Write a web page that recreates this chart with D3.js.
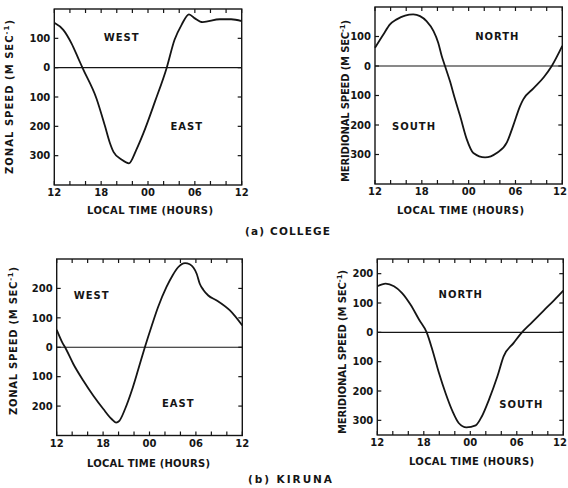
<!DOCTYPE html>
<html><head><meta charset="utf-8">
<script src="https://cdn.jsdelivr.net/npm/d3@7"></script>
<style>
body{margin:0;background:#fff}
svg text{font-family:"DejaVu Sans",sans-serif;font-weight:bold;fill:#151515}
</style></head>
<body><svg id="chart" width="568" height="488"></svg>
<script>
// Local time axis: hours counted from 12 (noon) to next noon
const xTickHours = [0, 6, 12, 18, 24];
const xTickLabels = ["12", "18", "00", "06", "12"];
const xMinorHours = [0,2,4,6,8,10,12,14,16,18,20,22,24];

// (a) College — zonal speed (positive = west)
const collegeZonalHours = [0,1.15,2.2,3.07,3.6,5.4,6.5,7.1,7.6,8.6,9.55,10.5,11.4,12.9,14.4,15.4,16.3,17.25,18.0,19.0,21.2,22.65,24];
const collegeZonalSpeed = [153,129,83,32,0,-105,-200,-255,-288,-313,-326,-280,-224,-115,0,95,146,182,168,155,165,165,159];

// (a) College — meridional speed (positive = north)
const collegeMeridHours = [0,1.07,1.92,2.78,3.85,4.9,5.77,6.6,7.5,8.1,8.55,8.97,9.6,10.26,10.9,11.75,12.6,14.1,15.6,16.9,17.7,18.6,19.0,20.3,21.6,22.65,24];
const collegeMeridSpeed = [62,107,141,158,171,175,169,152,118,79,34,0,-51,-113,-169,-248,-295,-310,-295,-259,-203,-135,-113,-76,-39,0,68];

// (b) Kiruna — zonal speed
const kirunaZonalHours = [0,0.65,1.2,2.15,3.45,4.74,6.03,7.1,7.67,8.1,8.84,9.7,10.56,11.4,12.3,13.1,14.2,15.0,15.7,16.6,17.2,17.67,18.1,18.5,18.97,19.6,20.7,22.4,24];
const kirunaZonalSpeed = [59,20,-6,-57,-114,-165,-210,-244,-256,-250,-210,-148,-74,0,74,136,205,245,272,286,282,271,250,216,195,176,159,125,74];

// (b) Kiruna — meridional speed
const kirunaMeridHours = [0,1.08,2.15,3.2,4.3,5.4,6.37,7.1,7.96,8.8,9.7,10.5,11.5,12.7,13.5,14.4,15.5,16.3,17.6,18.5,19.8,21.5,22.8,24];
const kirunaMeridSpeed = [157,166,157,134,94,43,0,-59,-139,-207,-269,-309,-324,-317,-286,-230,-150,-82,-36,-5,30,75,109,142];

const zonalTitle = "ZONAL SPEED (M SEC";
const meridTitle = "MERIDIONAL SPEED (M SEC";
const xTitle = "LOCAL TIME (HOURS)";

const svg = d3.select("#chart");
const ink = "#151515";
const fs = 10;

function panel(c) {
  const x = d3.scaleLinear().domain([0, 24]).range([c.left, c.right]);
  const y = d3.scaleLinear().domain(c.yDomain).range([c.bottom, c.top]);
  const g = svg.append("g");

  g.append("rect").attr("x", c.left).attr("y", c.top)
    .attr("width", c.right - c.left).attr("height", c.bottom - c.top)
    .attr("fill", "none").attr("stroke", ink).attr("stroke-width", 1.4);

  xMinorHours.forEach(h => {
    g.append("line").attr("x1", x(h)).attr("x2", x(h)).attr("y1", c.bottom).attr("y2", c.bottom - 4)
      .attr("stroke", ink).attr("stroke-width", 1.2);
    g.append("line").attr("x1", x(h)).attr("x2", x(h)).attr("y1", c.top).attr("y2", c.top + 4)
      .attr("stroke", ink).attr("stroke-width", 1.2);
  });
  xTickHours.forEach((h, i) => {
    const px = Math.min(x(h), 567 - 7);
    g.append("text").attr("x", px).attr("y", c.bottom + 11).attr("text-anchor", "middle")
      .attr("font-size", fs).text(xTickLabels[i]);
  });

  c.yTicks.forEach(v => {
    g.append("line").attr("x1", c.left).attr("x2", c.left + 4).attr("y1", y(v)).attr("y2", y(v))
      .attr("stroke", ink).attr("stroke-width", 1.2);
    g.append("line").attr("x1", c.right).attr("x2", c.right - 4).attr("y1", y(v)).attr("y2", y(v))
      .attr("stroke", ink).attr("stroke-width", 1.2);
    g.append("text").attr("x", c.left - 4).attr("y", y(v) + 3.7).attr("text-anchor", "end")
      .attr("font-size", fs).text(Math.abs(v));
  });

  g.append("line").attr("x1", c.left).attr("x2", c.right).attr("y1", y(0)).attr("y2", y(0))
    .attr("stroke", ink).attr("stroke-width", 1.1);

  const pts = c.hours.map((h, i) => [h, c.speed[i]]);
  g.append("path").datum(pts)
    .attr("d", d3.line().x(d => x(d[0])).y(d => y(d[1])).curve(d3.curveMonotoneX))
    .attr("fill", "none").attr("stroke", ink).attr("stroke-width", 1.8).attr("stroke-linejoin", "round");

  c.regions.forEach(r => {
    g.append("text").attr("x", r.x).attr("y", r.y + 3.7).attr("text-anchor", "middle")
      .attr("font-size", fs).attr("letter-spacing", 1).text(r.t);
  });

  g.append("text").attr("x", c.xt[0]).attr("y", c.xt[1] + 3.7).attr("text-anchor", "middle")
    .attr("font-size", fs).attr("textLength", c.xt[2]).attr("lengthAdjust", "spacing").text(xTitle);

  const yt = g.append("text").attr("transform", `translate(${c.yt[0]},${c.yt[1]}) rotate(-90)`)
    .attr("text-anchor", "middle").attr("dy", 3.7).attr("font-size", fs)
    .attr("textLength", c.yt[2]).attr("lengthAdjust", "spacing");
  yt.append("tspan").text(c.yTitle);
  yt.append("tspan").attr("dy", -4).attr("font-size", 7).text("-1");
  yt.append("tspan").attr("dy", 4).text(")");
}

panel({left:54.3,right:241.7,top:9,bottom:185,yDomain:[-400,200],yTicks:[100,0,-100,-200,-300],
  hours:collegeZonalHours,speed:collegeZonalSpeed,yTitle:zonalTitle,
  regions:[{t:"WEST",x:121.7,y:37.7},{t:"EAST",x:186.7,y:126.7}],
  xt:[150,210.7,126], yt:[9,97,154]});
panel({left:375,right:562.3,top:7,bottom:184,yDomain:[-400,200],yTicks:[100,0,-100,-200,-300],
  hours:collegeMeridHours,speed:collegeMeridSpeed,yTitle:meridTitle,
  regions:[{t:"NORTH",x:497.3,y:36.7},{t:"SOUTH",x:414,y:126}],
  xt:[460.5,210.7,127], yt:[345.7,101,162]});
panel({left:56.7,right:242.3,top:259,bottom:435.5,yDomain:[-300,300],yTicks:[200,100,0,-100,-200],
  hours:kirunaZonalHours,speed:kirunaZonalSpeed,yTitle:zonalTitle,
  regions:[{t:"WEST",x:91.7,y:295},{t:"EAST",x:178.3,y:403.3}],
  xt:[148.5,463,123], yt:[13.5,341,148]});
panel({left:377.3,right:563.3,top:259,bottom:435,yDomain:[-350,250],yTicks:[200,100,0,-100,-200,-300],
  hours:kirunaMeridHours,speed:kirunaMeridSpeed,yTitle:meridTitle,
  regions:[{t:"NORTH",x:460.7,y:294.3},{t:"SOUTH",x:521.3,y:404.3}],
  xt:[471.5,461.7,125], yt:[342,352,164]});

svg.append("text").attr("x", 245).attr("y", 231 + 4).attr("font-size", 10.5)
  .attr("textLength", 85).attr("lengthAdjust", "spacing").text("(a)  COLLEGE");
svg.append("text").attr("x", 248).attr("y", 479 + 4).attr("font-size", 10.5)
  .attr("textLength", 84).attr("lengthAdjust", "spacing").text("(b)  KIRUNA");
</script>
</body></html>
